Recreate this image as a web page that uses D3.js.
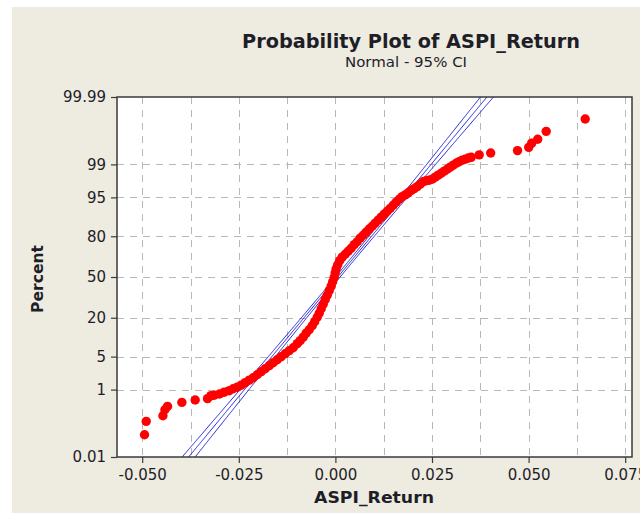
<!DOCTYPE html>
<html>
<head>
<meta charset="utf-8">
<script src="https://cdn.jsdelivr.net/npm/d3@7"></script>
<style>
  html, body { margin: 0; padding: 0; background: #ffffff; }
  svg { display: block; }
</style>
</head>
<body>
<svg id="chart" width="640" height="513"></svg>
<script>
// ---------------- data ----------------
const returns = [
  -0.04940, -0.04896, -0.04464, -0.04412, -0.04345, -0.03973, -0.03628, -0.03310,
  -0.03222, -0.03137, -0.03000, -0.02878, -0.02748, -0.02645, -0.02541, -0.02438,
  -0.02334, -0.02231, -0.02127, -0.02024, -0.01920, -0.01817, -0.01713, -0.01610,
  -0.01506, -0.01403, -0.01299, -0.01196, -0.01092, -0.00989, -0.00911, -0.00833,
  -0.00756, -0.00678, -0.00600, -0.00536, -0.00471, -0.00419, -0.00367, -0.00316,
  -0.00264, -0.00212, -0.00160, -0.00109, -0.00070, -0.00031, -0.00005, 0.00021,
   0.00060,  0.00111,  0.00176,  0.00254,  0.00331,  0.00409,  0.00487,  0.00564,
   0.00642,  0.00719,  0.00797,  0.00875,  0.00952,  0.01030,  0.01108,  0.01185,
   0.01263,  0.01341,  0.01418,  0.01496,  0.01573,  0.01651,  0.01729,  0.01806,
   0.01884,  0.01962,  0.02039,  0.02117,  0.02195,  0.02272,  0.02350,  0.02428,
   0.02505,  0.02583,  0.02660,  0.02738,  0.02816,  0.02893,  0.02971,  0.03049,
   0.03126,  0.03204,  0.03282,  0.03359,  0.03437,  0.03514,  0.03722,  0.04019,
   0.04713,  0.05003,  0.05080,  0.05236,  0.05455,  0.06465
];
const percents = [
  0.056, 0.143, 0.208, 0.305, 0.375, 0.479, 0.552, 0.597,
  0.710, 0.730, 0.782, 0.866, 0.941, 1.05, 1.14, 1.27,
  1.45, 1.65, 1.87, 2.17, 2.52, 2.90, 3.34, 3.83,
  4.37, 4.98, 5.65, 6.39, 7.20, 8.41, 9.41, 10.7,
  12.3, 13.8, 15.7, 17.8, 20.3, 22.7, 25.6, 28.7,
  32.0, 35.3, 38.9, 42.5, 46.1, 49.8, 53.5, 56.8,
  60.0, 63.2, 65.9, 68.1, 70.3, 72.4, 74.8, 76.7,
  78.9, 80.6, 82.3, 83.9, 85.3, 86.7, 88.0, 89.2,
  90.3, 91.3, 92.2, 93.1, 93.9, 94.6, 95.15, 95.5,
  95.9, 96.3, 96.6, 96.9, 97.24, 97.55, 97.67, 97.72,
  97.84, 98.04, 98.23, 98.40, 98.56, 98.70, 98.84, 98.96,
  99.06, 99.14, 99.21, 99.25, 99.30, 99.33, 99.42, 99.48,
  99.55, 99.63, 99.715, 99.779, 99.869, 99.945
];
// fitted normal summary (estimated from the drawn fit line)
const fitMean = 0.00062;
const fitStDev = 0.01038;
const fitN = 1160;

const yTickPercents = [0.01, 1, 5, 20, 50, 80, 95, 99, 99.99];
const yTickLabels = ["0.01", "1", "5", "20", "50", "80", "95", "99", "99.99"];
const yGridPercents = [1, 5, 20, 50, 80, 95, 99];
const xTickValues = [-0.05, -0.025, 0, 0.025, 0.05, 0.075];
const xTickLabels = ["-0.050", "-0.025", "0.000", "0.025", "0.050", "0.075"];
const xGridValues = [-0.05, -0.0375, -0.025, -0.0125, 0, 0.0125, 0.025, 0.0375, 0.05, 0.0625, 0.075];

const titleText = "Probability Plot of ASPI_Return";
const subtitleText = "Normal - 95% CI";
const xTitle = "ASPI_Return";
const yTitle = "Percent";

// ---------------- helpers ----------------
// inverse standard normal CDF (Acklam)
function probit(p) {
  const a = [-3.969683028665376e+01, 2.209460984245205e+02, -2.759285104469687e+02,
             1.383577518672690e+02, -3.066479806614716e+01, 2.506628277459239e+00];
  const b = [-5.447609879822406e+01, 1.615858368580409e+02, -1.556989798598866e+02,
             6.680131188771972e+01, -1.328068155288572e+01];
  const c = [-7.784894002430293e-03, -3.223964580411365e-01, -2.400758277161838e+00,
             -2.549671010115315e+00, 4.374664141464968e+00, 2.938163982698783e+00];
  const d = [7.784695709041462e-03, 3.224671290700398e-01, 2.445134137142996e+00,
             3.754408661907416e+00];
  const plow = 0.02425, phigh = 1 - plow;
  let q, r;
  if (p < plow) {
    q = Math.sqrt(-2 * Math.log(p));
    return (((((c[0]*q+c[1])*q+c[2])*q+c[3])*q+c[4])*q+c[5]) /
           ((((d[0]*q+d[1])*q+d[2])*q+d[3])*q+1);
  } else if (p <= phigh) {
    q = p - 0.5; r = q * q;
    return (((((a[0]*r+a[1])*r+a[2])*r+a[3])*r+a[4])*r+a[5])*q /
           (((((b[0]*r+b[1])*r+b[2])*r+b[3])*r+b[4])*r+1);
  } else {
    q = Math.sqrt(-2 * Math.log(1 - p));
    return -(((((c[0]*q+c[1])*q+c[2])*q+c[3])*q+c[4])*q+c[5]) /
            ((((d[0]*q+d[1])*q+d[2])*q+d[3])*q+1);
  }
}

// ---------------- layout ----------------
const W = 640, H = 513;
const plot = { left: 117, right: 632, top: 97, bottom: 457 };
const FONT = "'DejaVu Sans', Verdana, sans-serif";
const TEXT_COLOR = "#1e1e28";

const svg = d3.select("#chart");

// backgrounds
svg.append("rect").attr("x", 0).attr("y", 0).attr("width", W).attr("height", H).attr("fill", "#ffffff");
svg.append("rect").attr("x", 12).attr("y", 7).attr("width", W - 12).attr("height", H - 7).attr("fill", "#eeebe0");
svg.append("rect")
  .attr("x", plot.left).attr("y", plot.top)
  .attr("width", plot.right - plot.left).attr("height", plot.bottom - plot.top)
  .attr("fill", "#ffffff");

// scales
const x = d3.scaleLinear().domain([-0.05, 0.075]).range([142.2, 625.2]);
const zTop = probit(0.9999), zBot = probit(0.0001);
const yz = d3.scaleLinear().domain([zBot, zTop]).range([plot.bottom, plot.top]);
const yP = p => yz(probit(p / 100));

// clip
svg.append("defs").append("clipPath").attr("id", "plotClip")
  .append("rect")
  .attr("x", plot.left).attr("y", plot.top)
  .attr("width", plot.right - plot.left).attr("height", plot.bottom - plot.top);

// gridlines
const grid = svg.append("g").attr("stroke", "#b8b8b8").attr("stroke-width", 1)
  .attr("stroke-dasharray", "7,6");
grid.selectAll("line.gx").data(xGridValues).join("line")
  .attr("class", "gx")
  .attr("x1", d => Math.round(x(d)) + 0.5).attr("x2", d => Math.round(x(d)) + 0.5)
  .attr("y1", plot.top).attr("y2", plot.bottom);
grid.selectAll("line.gy").data(yGridPercents).join("line")
  .attr("class", "gy")
  .attr("x1", plot.left).attr("x2", plot.right)
  .attr("y1", d => Math.round(yP(d)) + 0.5).attr("y2", d => Math.round(yP(d)) + 0.5);

// fit line and CI bands
const zs = d3.range(-4.2, 4.2001, 0.02);
const half = z => 1.959964 * fitStDev * Math.sqrt((1 + z * z / 2) / fitN);
const lineGen = d3.line().x(d => x(d[0])).y(d => yz(d[1]));
const fitG = svg.append("g").attr("clip-path", "url(#plotClip)")
  .attr("fill", "none").attr("stroke", "#2323d8").attr("stroke-width", 1);
fitG.append("path").attr("d", lineGen(zs.map(z => [fitMean + z * fitStDev, z])));
fitG.append("path").attr("d", lineGen(zs.map(z => [fitMean + z * fitStDev - half(z), z])));
fitG.append("path").attr("d", lineGen(zs.map(z => [fitMean + z * fitStDev + half(z), z])));

// data points
const pts = returns.map((r, i) => ({ r, p: percents[i] }));
svg.append("g").attr("clip-path", "url(#plotClip)")
  .selectAll("circle").data(pts).join("circle")
  .attr("cx", d => x(d.r))
  .attr("cy", d => yP(d.p))
  .attr("r", 4.7)
  .attr("fill", "#ff0000");

// frame
svg.append("rect")
  .attr("x", plot.left).attr("y", plot.top)
  .attr("width", plot.right - plot.left).attr("height", plot.bottom - plot.top)
  .attr("fill", "none").attr("stroke", "#3a3a3a").attr("stroke-width", 1.5);

// axes
const xAxis = d3.axisBottom(x).tickValues(xTickValues)
  .tickFormat((d, i) => xTickLabels[i]).tickSize(6).tickPadding(6);
const gx = svg.append("g").attr("transform", `translate(0,${plot.bottom})`).call(xAxis);
gx.select(".domain").remove();
gx.selectAll(".tick line").attr("stroke", "#3a3a3a").attr("stroke-width", 1.2);
gx.selectAll(".tick text").attr("fill", TEXT_COLOR).style("font-family", FONT).style("font-size", "15px");

const yAxis = d3.axisLeft(yz).tickValues(yTickPercents.map(p => probit(p / 100)))
  .tickFormat((d, i) => yTickLabels[i]).tickSize(6).tickPadding(5);
const gy = svg.append("g").attr("transform", `translate(${plot.left},0)`).call(yAxis);
gy.select(".domain").remove();
gy.selectAll(".tick line").attr("stroke", "#3a3a3a").attr("stroke-width", 1.2);
gy.selectAll(".tick text").attr("fill", TEXT_COLOR).style("font-family", FONT).style("font-size", "15px");

// titles
svg.append("text").text(titleText)
  .attr("x", 411).attr("y", 48).attr("text-anchor", "middle")
  .attr("textLength", 338).attr("lengthAdjust", "spacingAndGlyphs")
  .attr("fill", TEXT_COLOR).style("font-family", FONT)
  .style("font-weight", "bold").style("font-size", "20px");
svg.append("text").text(subtitleText)
  .attr("x", 406).attr("y", 67).attr("text-anchor", "middle")
  .attr("textLength", 122).attr("lengthAdjust", "spacingAndGlyphs")
  .attr("fill", TEXT_COLOR).style("font-family", FONT).style("font-size", "14px");
svg.append("text").text(xTitle)
  .attr("x", 374).attr("y", 503).attr("text-anchor", "middle")
  .attr("textLength", 120).attr("lengthAdjust", "spacingAndGlyphs")
  .attr("fill", TEXT_COLOR).style("font-family", FONT)
  .style("font-weight", "bold").style("font-size", "16px");
svg.append("text").text(yTitle)
  .attr("transform", "translate(43,279) rotate(-90)").attr("text-anchor", "middle")
  .attr("textLength", 68).attr("lengthAdjust", "spacingAndGlyphs")
  .attr("fill", TEXT_COLOR).style("font-family", FONT)
  .style("font-weight", "bold").style("font-size", "15px");
</script>
</body>
</html>
